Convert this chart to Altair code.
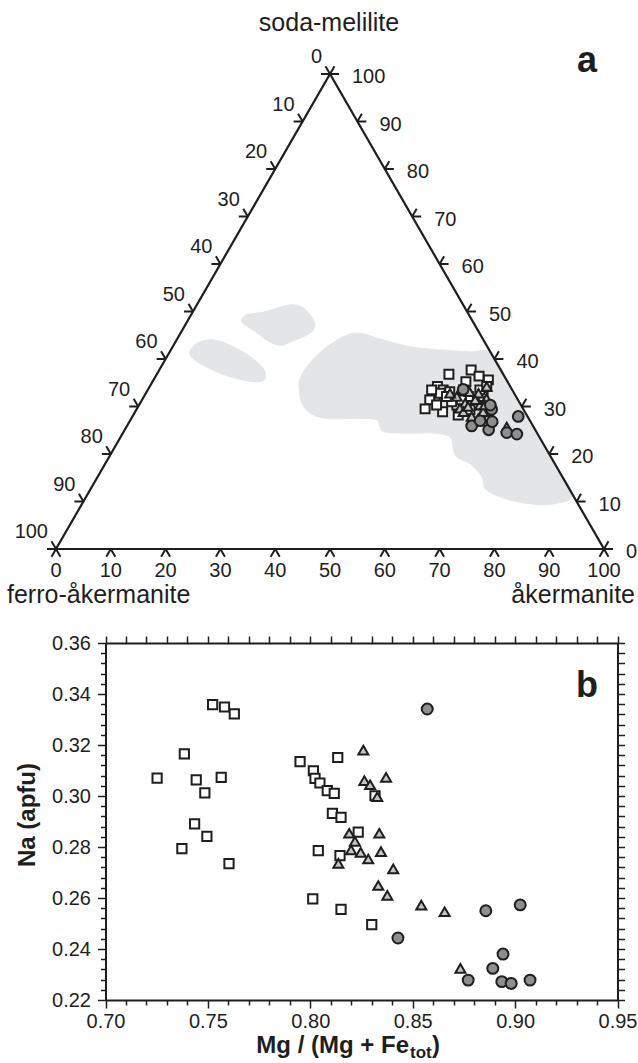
import altair as alt
import pandas as pd

FONT = "Liberation Sans, Arial, sans-serif"
INK = "#1e1e1e"
FIELD = "#e4e5e7"

# ---------------- panel a : ternary (åkermanite %, soda-melilite %) ----------------
A_SQ_AK = [53.3, 56.9, 59.0, 61.1, 57.2, 52.5, 53.9, 53.1, 55.3, 52.5, 52.6, 56.1, 59.3, 58.0,
           61.6, 61.9, 60.6, 54.3, 56.7, 59.2, 64.3, 53.7, 57.6, 60.9, 58.3, 61.5, 55.2, 51.8]
A_SQ_NA = [36.8, 37.7, 36.4, 35.6, 35.2, 34.2, 33.5, 32.2, 33.1, 31.4, 29.5, 28.9, 28.2, 30.3,
           30.3, 32.1, 33.5, 30.3, 31.0, 32.1, 27.9, 32.8, 33.5, 29.3, 31.4, 34.2, 32.1, 33.5]
A_TR_AK = [61.5, 60.7, 57.1, 59.3, 62.2, 64.9, 61.9, 58.9, 63.5, 55.5, 58.9, 60.8, 62.7, 59.9,
           63.3, 63.1, 60.2, 69.4, 65.8]
A_TR_NA = [34.2, 32.8, 32.1, 30.7, 30.3, 27.9, 27.9, 29.6, 28.9, 32.8, 33.1, 31.4, 31.7, 28.9,
           27.5, 30.3, 30.0, 25.7, 27.5]
A_CI_AK = [57.5, 64.8, 70.4, 62.9, 66.4, 70.0, 72.0, 66.2, 63.9, 64.1]
A_CI_NA = [33.6, 29.4, 27.9, 25.9, 25.1, 24.5, 24.2, 26.8, 27.0, 30.3]

# grey compositional fields (outline points, åkermanite %, soda-melilite %)
F1_AK = [9.8, 10.2, 13.4, 17.0, 19.8, 22.9, 23.9, 22.8, 20.9, 19.7, 17.2, 12.9, 10.4]
F1_NA = [48.2, 49.3, 50.0, 51.4, 50.7, 48.2, 46.1, 44.7, 43.6, 42.9, 43.6, 46.1, 47.5]
F2_AK = [3.6, 4.5, 6.7, 10.3, 15.2, 18.8, 20.2, 19.0, 15.0, 10.7, 6.7, 4.1]
F2_NA = [42.3, 43.6, 44.0, 42.9, 40.5, 38.0, 35.9, 35.2, 35.9, 37.3, 39.1, 40.8]
F3_AK = [26.7, 26.6, 27.8, 30.1, 32.8, 37.7, 43.3, 49.1, 54.8, 58.8, 66.0, 74.0, 81.0, 88.5,
         86.0, 82.0, 77.0, 72.4, 70.7, 69.4, 66.5, 63.4, 61.7, 60.1, 56.7, 51.2, 47.4, 46.3,
         44.9, 41.7, 35.7, 32.1, 29.5, 27.7]
F3_NA = [35.6, 38.4, 41.9, 44.7, 45.4, 44.0, 42.6, 41.9, 41.5, 41.2, 34.0, 26.0, 19.0, 11.5,
         9.5, 9.5, 10.5, 12.4, 14.5, 15.9, 18.0, 19.4, 21.5, 23.6, 24.4, 24.4, 24.7, 25.7,
         27.2, 27.5, 27.5, 28.6, 30.7, 33.5]

TERN_TICKS = [0, 10, 20, 30, 40, 50, 60, 70, 80, 90, 100]
VERT_AK = [0, 100, 0]
VERT_NA = [0, 0, 100]

# ---------------- panel b : Na vs Mg/(Mg+Fe) ----------------
B_SQ_X = [0.7523, 0.7581, 0.7629, 0.7385, 0.7252, 0.7443, 0.7565, 0.7485, 0.7435, 0.7495,
          0.7373, 0.7603, 0.7950, 0.8134, 0.8015, 0.8023, 0.8047, 0.8083, 0.8117, 0.8316,
          0.8108, 0.8150, 0.8234, 0.8039, 0.8145, 0.8012, 0.8150, 0.8300]
B_SQ_Y = [0.3358, 0.3349, 0.3322, 0.3165, 0.3070, 0.3063, 0.3073, 0.3012, 0.2891, 0.2842,
          0.2794, 0.2735, 0.3135, 0.3151, 0.3099, 0.3069, 0.3051, 0.3021, 0.3010, 0.3001,
          0.2932, 0.2916, 0.2858, 0.2786, 0.2766, 0.2597, 0.2555, 0.2496]
B_TR_X = [0.8259, 0.8264, 0.8292, 0.8370, 0.8327, 0.8190, 0.8337, 0.8218, 0.8199, 0.8246,
          0.8345, 0.8137, 0.8283, 0.8405, 0.8332, 0.8376, 0.8542, 0.8656, 0.8733]
B_TR_Y = [0.3180, 0.3060, 0.3044, 0.3073, 0.2997, 0.2854, 0.2854, 0.2822, 0.2789, 0.2779,
          0.2782, 0.2736, 0.2753, 0.2714, 0.2649, 0.2610, 0.2572, 0.2546, 0.2324]
B_CI_X = [0.8571, 0.8857, 0.9025, 0.8428, 0.8941, 0.8891, 0.8771, 0.8935, 0.8981, 0.9073]
B_CI_Y = [0.3341, 0.2550, 0.2573, 0.2443, 0.2380, 0.2324, 0.2278, 0.2272, 0.2265, 0.2278]

XB_TICKS = [round(0.70 + 0.01 * i, 2) for i in range(26)]
YB_TICKS = [round(0.22 + 0.004 * i, 3) for i in range(36)]

# ---------------- scales (explicit pixel ranges inside one 638x1063 canvas) ----------------
XA = alt.Scale(domain=[0, 100], range=[56, 604], zero=False, nice=False)
YA = alt.Scale(domain=[0, 100], range=[549, 74], zero=False, nice=False)
XB = alt.Scale(domain=[0.70, 0.95], range=[105.5, 617.5], zero=False, nice=False)
YB = alt.Scale(domain=[0.22, 0.36], range=[1000, 643], zero=False, nice=False)

TERN_CALC = dict(X="datum.ak + datum.na / 2", Y="datum.na")


def tern_xy():
    return dict(x=alt.X("X:Q", scale=XA, axis=None), y=alt.Y("Y:Q", scale=YA, axis=None))


def field_layer(ak, na):
    df = pd.DataFrame({"ak": ak, "na": na, "i": range(len(ak))})
    return (alt.Chart(df).transform_calculate(**TERN_CALC)
            .mark_line(interpolate="cardinal-closed", fill=FIELD, stroke=FIELD, strokeWidth=1)
            .encode(order="i:Q", **tern_xy()))


layers = [field_layer(F1_AK, F1_NA), field_layer(F2_AK, F2_NA), field_layer(F3_AK, F3_NA)]

# triangle outline
tri = pd.DataFrame({"ak": VERT_AK, "na": VERT_NA, "i": [0, 1, 2]})
layers.append(alt.Chart(tri).transform_calculate(**TERN_CALC)
              .mark_line(interpolate="linear-closed", stroke=INK, strokeWidth=2.2)
              .encode(order="i:Q", **tern_xy()))

# ternary ticks: short outward extensions of the two grid lines through each tick
HX = 9 / 5.48                      # horizontal leg, x units
DX, DY = 4.5 / 5.48, 7.8 / 4.75    # 60 degree leg
rows = []
for v in TERN_TICKS:
    x0, y0 = v, 0.0                          # bottom edge (åkermanite)
    rows += [(x0, y0, x0 - DX, y0 - DY), (x0, y0, x0 + DX, y0 - DY)]
    x0, y0 = (100 - v) + v / 2, float(v)     # right edge (soda-melilite)
    rows += [(x0, y0, x0 + HX, y0), (x0, y0, x0 + DX, y0 + DY)]
    x0, y0 = (100 - v) / 2, float(100 - v)   # left edge (ferro-åkermanite)
    rows += [(x0, y0, x0 - HX, y0), (x0, y0, x0 - DX, y0 + DY)]
ticks = pd.DataFrame(rows, columns=["X", "Y", "X2", "Y2"])
layers.append(alt.Chart(ticks).mark_rule(color=INK, strokeWidth=2).encode(
    x=alt.X("X:Q", scale=XA, axis=None), y=alt.Y("Y:Q", scale=YA, axis=None),
    x2="X2:Q", y2="Y2:Q"))

# ternary tick labels
lab = pd.DataFrame({"v": TERN_TICKS})
tick_font = dict(font=FONT, fontSize=20, color=INK)
layers.append(alt.Chart(lab).transform_calculate(ak="datum.v", na="0").transform_calculate(**TERN_CALC)
              .mark_text(align="center", baseline="middle", dy=22, **tick_font)
              .encode(text="v:Q", **tern_xy()))
layers.append(alt.Chart(lab).transform_calculate(ak="100 - datum.v", na="datum.v").transform_calculate(**TERN_CALC)
              .mark_text(align="left", baseline="middle", dx=22, dy=3, **tick_font)
              .encode(text="v:Q", **tern_xy()))
layers.append(alt.Chart(lab).transform_calculate(ak="0", na="100 - datum.v").transform_calculate(**TERN_CALC)
              .mark_text(align="right", baseline="middle", dx=-8, dy=-17, **tick_font)
              .encode(text="v:Q", **tern_xy()))

# ternary data points
sym = dict(stroke=INK, strokeWidth=2, opacity=1, filled=True)
layers.append(alt.Chart(pd.DataFrame({"ak": A_SQ_AK, "na": A_SQ_NA})).transform_calculate(**TERN_CALC)
              .mark_point(shape="square", fill="white", size=80, **sym).encode(**tern_xy()))
layers.append(alt.Chart(pd.DataFrame({"ak": A_TR_AK, "na": A_TR_NA})).transform_calculate(**TERN_CALC)
              .mark_point(shape="triangle-up", fill="#c4c4c4", size=95, **sym).encode(**tern_xy()))
layers.append(alt.Chart(pd.DataFrame({"ak": A_CI_AK, "na": A_CI_NA})).transform_calculate(**TERN_CALC)
              .mark_point(shape="circle", fill="#8e8e8e", size=115, **sym).encode(**tern_xy()))

# ---------------- panel b ----------------
x_major = "abs(datum.value * 20 - round(datum.value * 20)) < 0.001"
y_major = "abs(datum.value * 50 - round(datum.value * 50)) < 0.001"
axis_common = dict(domainColor=INK, domainWidth=2, tickColor=INK, tickWidth=1.5, grid=False,
                   labelFont=FONT, labelFontSize=20, labelColor=INK, labelOverlap=False,
                   labelFlush=False, title="")

x_bottom = alt.Axis(orient="bottom", values=XB_TICKS, offset=-63, labelPadding=3,
                    labelExpr=f"{x_major} ? format(datum.value, '.2f') : ''",
                    tickSize={"condition": {"test": x_major, "value": 8}, "value": 5}, **axis_common)
y_left = alt.Axis(orient="left", values=YB_TICKS, offset=-105.5, labelPadding=7,
                  labelExpr=f"{y_major} ? format(datum.value, '.2f') : ''",
                  tickSize={"condition": {"test": y_major, "value": 8}, "value": 5}, **axis_common)
x_top = alt.Axis(orient="top", values=XB_TICKS, offset=-643, labels=False, tickSize=7, **axis_common)
y_right = alt.Axis(orient="right", values=YB_TICKS, offset=-20.5, labels=False, tickSize=7, **axis_common)

layers.append(alt.Chart(pd.DataFrame({"x": B_SQ_X, "y": B_SQ_Y}))
              .mark_point(shape="square", fill="white", size=85, **sym)
              .encode(x=alt.X("x:Q", scale=XB, axis=x_bottom), y=alt.Y("y:Q", scale=YB, axis=y_left)))
layers.append(alt.Chart(pd.DataFrame({"x": B_TR_X, "y": B_TR_Y}))
              .mark_point(shape="triangle-up", fill="#c4c4c4", size=100, **sym)
              .encode(x=alt.X("x:Q", scale=XB, axis=x_top), y=alt.Y("y:Q", scale=YB, axis=y_right)))
layers.append(alt.Chart(pd.DataFrame({"x": B_CI_X, "y": B_CI_Y}))
              .mark_point(shape="circle", fill="#8e8e8e", size=120, **sym)
              .encode(x=alt.X("x:Q", scale=XB, axis=None), y=alt.Y("y:Q", scale=YB, axis=None)))


# ---------------- annotation text ----------------
def text_layer(txt, x, y, size, weight="normal", align="center", baseline="alphabetic", angle=0):
    props = dict(text=txt, font=FONT, fontSize=size, fontWeight=weight, align=align,
                 baseline=baseline, color=INK)
    if angle:
        props["angle"] = angle
    return alt.Chart(pd.DataFrame({"t": [txt]})).mark_text(**props).encode(
        x=alt.value(x), y=alt.value(y))


layers += [
    text_layer("soda-melilite", 329, 31, 25),
    text_layer("a", 587, 72, 36, weight="bold"),
    text_layer("ferro-åkermanite", 7, 603, 25, align="left"),
    text_layer("åkermanite", 635, 603, 25, align="right"),
    text_layer("b", 587, 697, 36, weight="bold"),
    text_layer("Na (apfu)", 28, 815, 24, weight="bold", baseline="middle", angle=270),
    text_layer("Mg / (Mg + Fe", 409, 1053, 24, weight="bold", align="right"),
    text_layer("tot", 410, 1058, 17, weight="bold", align="left"),
    text_layer(")", 432, 1053, 24, weight="bold", align="left"),
]

chart = (alt.layer(*layers)
         .resolve_scale(x="independent", y="independent")
         .resolve_axis(x="independent", y="independent")
         .properties(width=638, height=1063, autosize=alt.AutoSizeParams(type="none"), padding=0)
         .configure_view(strokeWidth=0))

chart.save("out.html", embed_options={"renderer": "svg", "actions": False})
